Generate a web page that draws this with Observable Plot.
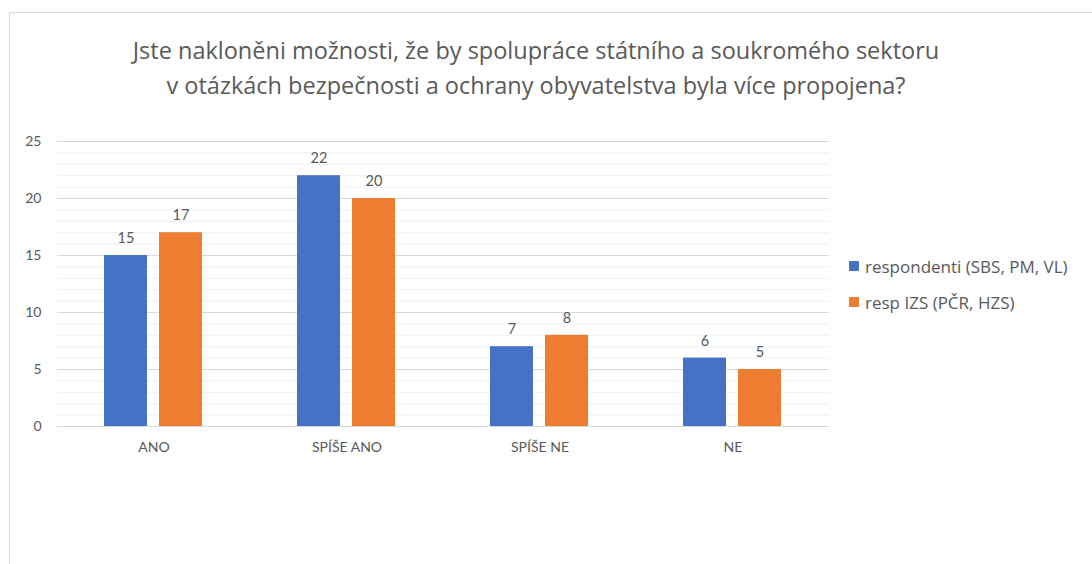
<!DOCTYPE html>
<html>
<head>
<meta charset="utf-8">
<script src="https://cdn.jsdelivr.net/npm/d3@7"></script>
<script src="https://cdn.jsdelivr.net/npm/@observablehq/plot@0.6"></script>
<style>
  html, body { margin: 0; padding: 0; background: #fff; }
  #wrap { position: relative; width: 1092px; height: 564px; overflow: hidden; font-family: Lato, "Open Sans", sans-serif; color: #595959; }
  #frame { position: absolute; left: 9px; top: 12px; width: 1200px; height: 700px; border-top: 1px solid #d9d9d9; border-left: 1px solid #d9d9d9; }
  #title { position: absolute; left: 0; top: 33px; width: 1072px; text-align: center; font-family: "Open Sans", sans-serif; font-size: 23.5px; line-height: 35px; }
  #chart { position: absolute; left: 0; top: 0; }
  #legend { position: absolute; left: 849px; top: 248px; font-family: "Open Sans", sans-serif; font-size: 17px; }
  #legend .item { display: flex; align-items: center; height: 36px; }
  #legend .sw { width: 10px; height: 10px; margin-right: 6px; }
</style>
</head>
<body>
<div id="wrap">
  <div id="frame"></div>
  <div id="chart"></div>
  <div id="title">Jste nakloněni možnosti, že by spolupráce státního a soukromého sektoru<br>v otázkách bezpečnosti a ochrany obyvatelstva byla více propojena?</div>
  <div id="legend"></div>
</div>
<script>
const categories = ["ANO", "SPÍŠE ANO", "SPÍŠE NE", "NE"];
const seriesNames = ["respondenti (SBS, PM, VL)", "resp IZS (PČR, HZS)"];
const seriesA = [15, 22, 7, 6];
const seriesB = [17, 20, 8, 5];
const seriesColors = ["#4472C4", "#ED7D31"];
const majorTicks = [0, 5, 10, 15, 20, 25];
const minorTicks = [1, 2, 3, 4, 6, 7, 8, 9, 11, 12, 13, 14, 16, 17, 18, 19, 21, 22, 23, 24];

const data = categories.flatMap((c, i) => [
  {category: c, series: seriesNames[0], value: seriesA[i]},
  {category: c, series: seriesNames[1], value: seriesB[i]}
]);

const chart = Plot.plot({
  width: 1092,
  height: 564,
  marginTop: 141,
  marginBottom: 138,
  marginLeft: 56,
  marginRight: 262,
  style: {fontFamily: "Lato, 'Open Sans', sans-serif", fontSize: "14px", color: "#595959", background: "transparent"},
  fx: {domain: categories, padding: 0, label: null, tickSize: 0, tickPadding: 16},
  x: {domain: seriesNames, paddingInner: 0.216, paddingOuter: 0.851, axis: null},
  y: {domain: [0, 25], ticks: majorTicks, tickSize: 0, tickPadding: 16, label: null, tickFormat: d => String(d)},
  color: {domain: seriesNames, range: seriesColors},
  marks: [
    Plot.ruleY(minorTicks, {stroke: "#f0f0f0", strokeWidth: 1}),
    Plot.ruleY(majorTicks, {stroke: "#d9d9d9", strokeWidth: 1}),
    Plot.barY(data, {fx: "category", x: "series", y: "value", fill: "series"}),
    Plot.text(data, {fx: "category", x: "series", y: "value", text: d => String(d.value), dy: -17, fill: "#595959", fontSize: 14.5})
  ]
});
document.getElementById("chart").appendChild(chart);

const legend = document.getElementById("legend");
seriesNames.forEach((name, i) => {
  const item = document.createElement("div");
  item.className = "item";
  const sw = document.createElement("span");
  sw.className = "sw";
  sw.style.background = seriesColors[i];
  const label = document.createElement("span");
  label.textContent = name;
  item.appendChild(sw);
  item.appendChild(label);
  legend.appendChild(item);
});
</script>
</body>
</html>
